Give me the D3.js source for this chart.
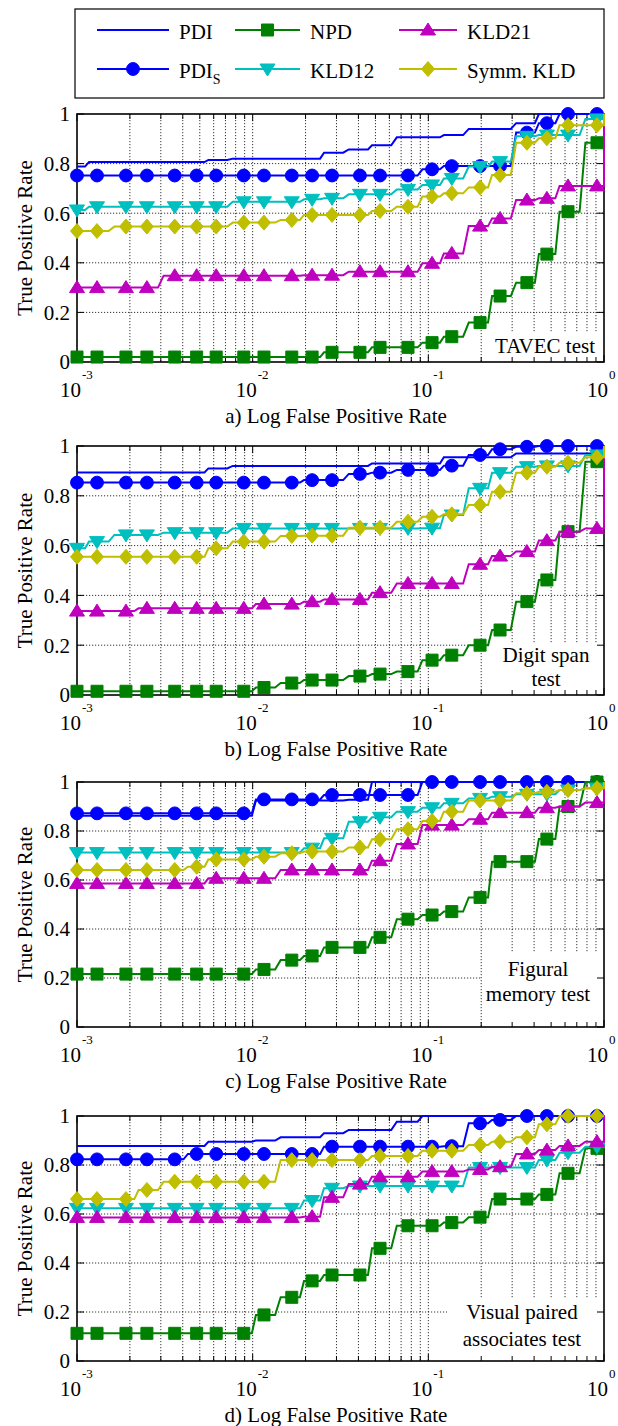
<!DOCTYPE html>
<html>
<head>
<meta charset="utf-8">
<script src="https://cdn.jsdelivr.net/npm/d3@7"></script>
<style>
  body { margin: 0; background: #fff; }
  svg { display: block; }
</style>
</head>
<body>
<div id="chart"></div>
<script>
// false positive rates where the roc points (and markers) sit; last one is FPR = 1
var fprGrid = [0.001, 0.0013, 0.0019, 0.0025, 0.0036, 0.0048, 0.0062, 0.0089, 0.0116, 0.0167, 0.0218, 0.0283,
               0.0408, 0.0531, 0.0766, 0.105, 0.136, 0.197, 0.256, 0.364, 0.473, 0.624, 0.912, 1.0];

var yTicks = [0, 0.2, 0.4, 0.6, 0.8, 1];
var yTickLabels = ["0", "0.2", "0.4", "0.6", "0.8", "1"];
var xMajor = [0.001, 0.01, 0.1, 1];
var xExponents = ["-3", "-2", "-1", "0"];

// a) TAVEC test
var tavecPDI    = [0.788, 0.806, 0.806, 0.806, 0.806, 0.806, 0.815, 0.82, 0.82, 0.82, 0.82, 0.844, 0.857, 0.874, 0.906, 0.906, 0.915, 0.94, 0.94, 0.963, 1, 1, 1, 1];
var tavecPDIS   = [0.752, 0.752, 0.752, 0.752, 0.752, 0.752, 0.752, 0.752, 0.752, 0.752, 0.752, 0.752, 0.752, 0.752, 0.752, 0.777, 0.79, 0.79, 0.79, 0.925, 0.963, 1, 1, 1];
var tavecNPD    = [0.02, 0.02, 0.02, 0.02, 0.02, 0.02, 0.02, 0.02, 0.02, 0.02, 0.02, 0.039, 0.039, 0.059, 0.059, 0.078, 0.102, 0.159, 0.266, 0.32, 0.435, 0.606, 0.884, 1];
var tavecKLD12  = [0.613, 0.626, 0.626, 0.626, 0.626, 0.626, 0.626, 0.646, 0.646, 0.646, 0.656, 0.66, 0.676, 0.676, 0.696, 0.714, 0.74, 0.788, 0.808, 0.91, 0.915, 0.915, 0.98, 1];
var tavecKLD21  = [0.30, 0.30, 0.30, 0.30, 0.348, 0.348, 0.348, 0.348, 0.348, 0.348, 0.35, 0.35, 0.364, 0.364, 0.364, 0.398, 0.438, 0.548, 0.579, 0.653, 0.66, 0.71, 0.71, 1];
var tavecSymm   = [0.528, 0.528, 0.546, 0.546, 0.546, 0.546, 0.546, 0.562, 0.562, 0.573, 0.593, 0.593, 0.593, 0.609, 0.626, 0.667, 0.68, 0.704, 0.754, 0.884, 0.902, 0.955, 0.955, 1];

// b) Digit span test
var digitPDI    = [0.894, 0.894, 0.894, 0.894, 0.894, 0.894, 0.91, 0.92, 0.92, 0.92, 0.92, 0.92, 0.92, 0.93, 0.93, 0.93, 0.955, 0.955, 0.955, 0.97, 0.97, 0.97, 0.97, 1];
var digitPDIS   = [0.853, 0.853, 0.853, 0.853, 0.853, 0.853, 0.853, 0.853, 0.853, 0.853, 0.863, 0.863, 0.888, 0.893, 0.904, 0.904, 0.921, 0.964, 0.987, 0.997, 1, 1, 1, 1];
var digitNPD    = [0.015, 0.015, 0.015, 0.015, 0.015, 0.015, 0.015, 0.015, 0.03, 0.048, 0.06, 0.06, 0.076, 0.084, 0.094, 0.14, 0.16, 0.2, 0.261, 0.375, 0.462, 0.656, 0.937, 1];
var digitKLD12  = [0.589, 0.616, 0.643, 0.643, 0.652, 0.652, 0.652, 0.669, 0.669, 0.669, 0.669, 0.669, 0.669, 0.669, 0.669, 0.67, 0.723, 0.83, 0.893, 0.917, 0.92, 0.92, 0.964, 1];
var digitKLD21  = [0.337, 0.337, 0.337, 0.348, 0.348, 0.348, 0.348, 0.348, 0.365, 0.365, 0.375, 0.384, 0.384, 0.411, 0.448, 0.448, 0.448, 0.525, 0.558, 0.576, 0.62, 0.656, 0.669, 1];
var digitSymm   = [0.555, 0.555, 0.555, 0.555, 0.555, 0.555, 0.589, 0.616, 0.616, 0.639, 0.64, 0.64, 0.672, 0.672, 0.696, 0.716, 0.726, 0.763, 0.816, 0.893, 0.917, 0.933, 0.955, 1];

// c) Figural memory test
var figPDI      = [0.862, 0.862, 0.862, 0.862, 0.862, 0.862, 0.862, 0.862, 0.925, 0.925, 0.925, 0.925, 0.928, 1, 1, 1, 1, 1, 1, 1, 1, 1, 1, 1];
var figPDIS     = [0.872, 0.872, 0.872, 0.872, 0.872, 0.872, 0.872, 0.872, 0.929, 0.929, 0.929, 0.947, 0.947, 0.947, 0.947, 1, 1, 1, 1, 1, 1, 1, 1, 1];
var figNPD      = [0.216, 0.216, 0.216, 0.216, 0.216, 0.216, 0.216, 0.216, 0.235, 0.273, 0.29, 0.325, 0.325, 0.366, 0.44, 0.457, 0.471, 0.529, 0.675, 0.675, 0.767, 0.9, 1, 1];
var figKLD12    = [0.712, 0.712, 0.712, 0.712, 0.712, 0.712, 0.712, 0.712, 0.712, 0.712, 0.73, 0.77, 0.838, 0.856, 0.879, 0.895, 0.913, 0.933, 0.94, 0.95, 0.95, 0.967, 0.975, 1];
var figKLD21    = [0.586, 0.586, 0.586, 0.586, 0.586, 0.586, 0.607, 0.607, 0.607, 0.641, 0.641, 0.641, 0.641, 0.679, 0.747, 0.824, 0.824, 0.848, 0.875, 0.875, 0.895, 0.9, 0.916, 1];
var figSymm     = [0.641, 0.641, 0.641, 0.641, 0.641, 0.654, 0.684, 0.684, 0.695, 0.709, 0.716, 0.716, 0.733, 0.766, 0.807, 0.841, 0.879, 0.924, 0.924, 0.954, 0.96, 0.967, 0.975, 1];

// d) Visual paired associates test
var vpaPDI      = [0.878, 0.878, 0.878, 0.878, 0.878, 0.878, 0.895, 0.895, 0.9, 0.913, 0.913, 0.93, 0.943, 0.943, 0.977, 1, 1, 1, 1, 1, 1, 1, 1, 1];
var vpaPDIS     = [0.823, 0.823, 0.823, 0.823, 0.823, 0.845, 0.845, 0.845, 0.845, 0.845, 0.845, 0.875, 0.875, 0.875, 0.875, 0.875, 0.877, 0.97, 0.984, 1, 1, 1, 1, 1];
var vpaNPD      = [0.113, 0.113, 0.113, 0.113, 0.113, 0.113, 0.113, 0.113, 0.188, 0.26, 0.327, 0.351, 0.351, 0.46, 0.552, 0.552, 0.565, 0.587, 0.661, 0.661, 0.68, 0.766, 0.868, 1];
var vpaKLD12    = [0.623, 0.623, 0.623, 0.623, 0.623, 0.623, 0.623, 0.623, 0.623, 0.623, 0.655, 0.705, 0.714, 0.714, 0.714, 0.714, 0.714, 0.79, 0.79, 0.79, 0.82, 0.85, 0.875, 1];
var vpaKLD21    = [0.586, 0.586, 0.586, 0.586, 0.586, 0.586, 0.586, 0.586, 0.586, 0.586, 0.589, 0.668, 0.722, 0.752, 0.752, 0.773, 0.773, 0.782, 0.793, 0.845, 0.861, 0.878, 0.895, 1];
var vpaSymm     = [0.661, 0.661, 0.661, 0.698, 0.732, 0.732, 0.732, 0.732, 0.732, 0.82, 0.82, 0.82, 0.82, 0.837, 0.837, 0.858, 0.858, 0.882, 0.895, 0.913, 0.966, 1, 1, 1];

// series styles, in drawing order
var series = [
  {key: "PDI",   name: "PDI",       color: "#0000ff", marker: null},
  {key: "PDIS",  name: "PDI",       sub: "S", color: "#0000ff", marker: "circle"},
  {key: "NPD",   name: "NPD",       color: "#008000", marker: "square"},
  {key: "KLD12", name: "KLD12",     color: "#00bfbf", marker: "down"},
  {key: "KLD21", name: "KLD21",     color: "#bf00bf", marker: "up"},
  {key: "Symm",  name: "Symm. KLD", color: "#bfbf00", marker: "diamond"}
];

var panels = [
  {letter: "a", top: 114, bottom: 362, note: ["TAVEC test"], noteX: 545, noteY: [353], box: [488, 333],
   vals: {PDI: tavecPDI, PDIS: tavecPDIS, NPD: tavecNPD, KLD12: tavecKLD12, KLD21: tavecKLD21, Symm: tavecSymm}},
  {letter: "b", top: 446, bottom: 695, note: ["Digit span", "test"], noteX: 546, noteY: [662, 686], box: [490, 643],
   vals: {PDI: digitPDI, PDIS: digitPDIS, NPD: digitNPD, KLD12: digitKLD12, KLD21: digitKLD21, Symm: digitSymm}},
  {letter: "c", top: 782, bottom: 1027, note: ["Figural", "memory test"], noteX: 538, noteY: [976, 1001], box: [482, 952],
   vals: {PDI: figPDI, PDIS: figPDIS, NPD: figNPD, KLD12: figKLD12, KLD21: figKLD21, Symm: figSymm}},
  {letter: "d", top: 1116, bottom: 1361, note: ["Visual paired", "associates test"], noteX: 522, noteY: [1319, 1346], box: [447, 1298],
   vals: {PDI: vpaPDI, PDIS: vpaPDIS, NPD: vpaNPD, KLD12: vpaKLD12, KLD21: vpaKLD21, Symm: vpaSymm}}
];

var width = 618, height = 1426;
var left = 77, right = 604;
var serif = "'Liberation Serif', 'Times New Roman', Times, 'DejaVu Serif', serif";

var svg = d3.select("#chart").append("svg")
    .attr("width", width)
    .attr("height", height)
    .attr("font-family", serif);

var x = d3.scaleLog().domain([0.001, 1]).range([left, right]);

// minor + major log positions for grid
var xGrid = [];
[0.001, 0.01, 0.1].forEach(function(d){
    for (var k = 1; k < 10; k++) xGrid.push(d * k);
});
xGrid.push(1);

// marker shapes
function markerPath(type){
    if (type == "circle") return d3.symbol().type(d3.symbolCircle).size(130)();
    if (type == "square") return "M-6,-6L6,-6L6,6L-6,6Z";
    if (type == "up") return "M0,-7L7.5,5L-7.5,5Z";
    if (type == "down") return "M0,7L7.5,-5L-7.5,-5Z";
    if (type == "diamond") return "M0,-7.5L6.5,0L0,7.5L-6.5,0Z";
    return "";
}

// roc style: flat, then a short ramp in the middle of each segment;
// the last segment (to FPR = 1) goes flat and then straight up at the edge
function rampCurve(context){
    var pts = [];
    return {
        areaStart: function(){}, areaEnd: function(){},
        lineStart: function(){ pts = []; },
        point: function(px, py){ pts.push([px, py]); },
        lineEnd: function(){
            pts.forEach(function(pt, i){
                if (i === 0) { context.moveTo(pt[0], pt[1]); return; }
                var prev = pts[i - 1];
                if (i === pts.length - 1) {
                    context.lineTo(pt[0], prev[1]);
                } else {
                    context.lineTo(prev[0] + (pt[0] - prev[0]) * 0.4, prev[1]);
                    context.lineTo(prev[0] + (pt[0] - prev[0]) * 0.6, pt[1]);
                }
                context.lineTo(pt[0], pt[1]);
            });
        }
    };
}

function addText(g, tx, ty, size, str){
    return g.append("text")
        .attr("x", tx).attr("y", ty)
        .attr("font-family", serif)
        .attr("font-size", size)
        .attr("fill", "#000")
        .text(str);
}

panels.forEach(function(p){
    var y = d3.scaleLinear().domain([0, 1]).range([p.bottom, p.top]);
    var g = svg.append("g").attr("class", "panel-" + p.letter);

    // grid
    g.selectAll(".vgrid").data(xGrid.slice(1, -1)).enter().append("line")
        .attr("x1", function(d){ return x(d); })
        .attr("x2", function(d){ return x(d); })
        .attr("y1", p.top).attr("y2", p.bottom)
        .attr("stroke", "#000").attr("stroke-width", 0.8)
        .attr("stroke-dasharray", "1.2,1.8");
    g.selectAll(".hgrid").data(yTicks.slice(1, -1)).enter().append("line")
        .attr("x1", left).attr("x2", right)
        .attr("y1", function(d){ return y(d); })
        .attr("y2", function(d){ return y(d); })
        .attr("stroke", "#000").attr("stroke-width", 0.8)
        .attr("stroke-dasharray", "1.2,1.8");

    // white box behind the test name
    g.append("rect")
        .attr("x", p.box[0]).attr("y", p.box[1])
        .attr("width", right - p.box[0]).attr("height", p.bottom - p.box[1])
        .attr("fill", "#fff");

    // ticks on all four sides
    xGrid.forEach(function(d){
        var len = (xMajor.indexOf(d) >= 0) ? 7 : 5;
        g.append("line").attr("x1", x(d)).attr("x2", x(d))
            .attr("y1", p.bottom).attr("y2", p.bottom - len).attr("stroke", "#000");
        g.append("line").attr("x1", x(d)).attr("x2", x(d))
            .attr("y1", p.top).attr("y2", p.top + len).attr("stroke", "#000");
    });
    yTicks.forEach(function(d){
        g.append("line").attr("x1", left).attr("x2", left + 7)
            .attr("y1", y(d)).attr("y2", y(d)).attr("stroke", "#000");
        g.append("line").attr("x1", right).attr("x2", right - 7)
            .attr("y1", y(d)).attr("y2", y(d)).attr("stroke", "#000");
    });

    // frame
    g.append("rect")
        .attr("x", left).attr("y", p.top)
        .attr("width", right - left).attr("height", p.bottom - p.top)
        .attr("fill", "none").attr("stroke", "#000").attr("stroke-width", 1.6);

    // y tick labels
    yTicks.forEach(function(d, i){
        addText(g, 70, y(d), 21, yTickLabels[i])
            .attr("dy", "0.35em")
            .attr("text-anchor", "end");
    });

    // x tick labels 10^e
    xMajor.forEach(function(d, i){
        addText(g, x(d) + 4, p.bottom + 35, 21, "10").attr("text-anchor", "end");
        addText(g, x(d) + 5, p.bottom + 17, 13, xExponents[i]);
    });

    // axis titles
    addText(g, 336, p.bottom + 61, 21, p.letter + ") Log False Positive Rate")
        .attr("text-anchor", "middle");
    addText(g, 0, 0, 21, "True Positive Rate")
        .attr("transform", "translate(32," + ((p.top + p.bottom) / 2) + ") rotate(-90)")
        .attr("text-anchor", "middle");

    // test name
    p.note.forEach(function(t, i){
        addText(g, p.noteX, p.noteY[i], 21, t).attr("text-anchor", "middle");
    });

    // curves
    var line = d3.line()
        .x(function(d){ return x(d[0]); })
        .y(function(d){ return y(d[1]); })
        .curve(rampCurve);

    series.forEach(function(s){
        var pts = fprGrid.map(function(f, i){ return [f, p.vals[s.key][i]]; });
        g.append("path")
            .datum(pts)
            .attr("d", line)
            .attr("fill", "none")
            .attr("stroke", s.color)
            .attr("stroke-width", 2);
        if (s.marker){
            g.selectAll(".m-" + s.key).data(pts.slice(0, -1)).enter().append("path")
                .attr("class", "m-" + s.key)
                .attr("transform", function(d){ return "translate(" + x(d[0]) + "," + y(d[1]) + ")"; })
                .attr("d", markerPath(s.marker))
                .attr("fill", s.color)
                .attr("stroke", s.color)
                .attr("stroke-width", 1);
        }
    });
});

// legend
var legend = svg.append("g").attr("class", "legend");
legend.append("rect")
    .attr("x", 75).attr("y", 9)
    .attr("width", 529).attr("height", 89)
    .attr("fill", "#fff").attr("stroke", "#000").attr("stroke-width", 1.2);

var legendCols = [97, 235, 399];
var legendLen = [72, 65, 58];
var legendRows = [30, 69];
// column-major: PDI, PDI_S | NPD, KLD12 | KLD21, Symm. KLD
var legendSlots = [[0, 0], [0, 1], [1, 0], [1, 1], [2, 0], [2, 1]];

series.forEach(function(s, i){
    var c = legendSlots[i][0], r = legendSlots[i][1];
    var x0 = legendCols[c], x1 = x0 + legendLen[c], ly = legendRows[r];
    legend.append("line")
        .attr("x1", x0).attr("x2", x1).attr("y1", ly).attr("y2", ly)
        .attr("stroke", s.color).attr("stroke-width", 2);
    if (s.marker){
        legend.append("path")
            .attr("transform", "translate(" + ((x0 + x1) / 2) + "," + ly + ")")
            .attr("d", markerPath(s.marker))
            .attr("fill", s.color).attr("stroke", s.color);
    }
    var t = addText(legend, x1 + 10, ly + 9, 21, s.name);
    if (s.sub){
        t.append("tspan").attr("font-size", 14).attr("dy", 6).text(s.sub);
    }
});
</script>
</body>
</html>
